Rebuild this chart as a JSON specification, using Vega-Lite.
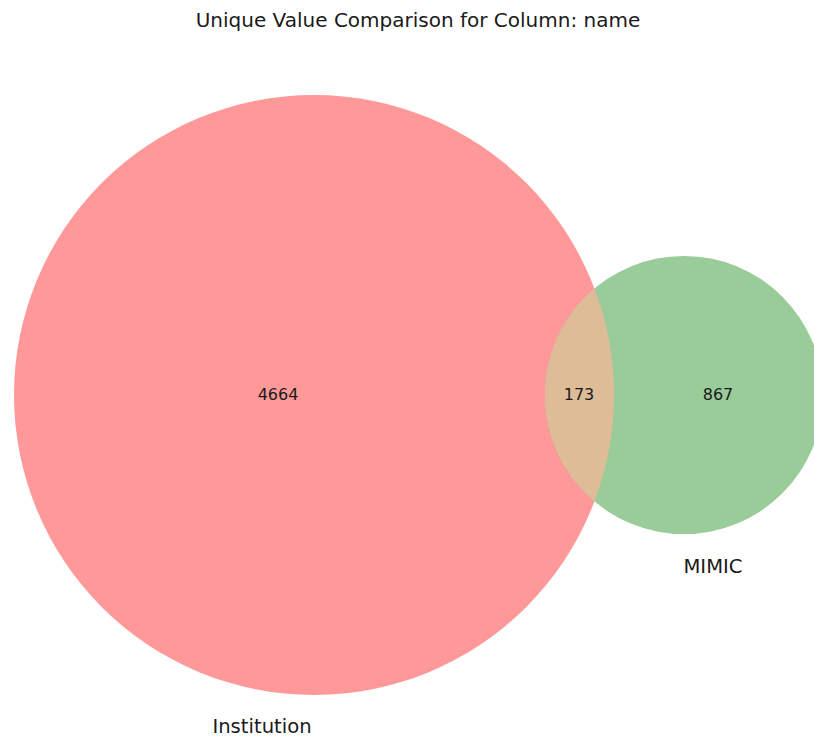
{
  "$schema": "https://vega.github.io/schema/vega-lite/v6.json",
  "width": 814,
  "height": 742,
  "autosize": {"type": "none"},
  "padding": 0,
  "background": "white",
  "config": {"view": {"stroke": null}, "text": {"font": "DejaVu Sans"}},
  "datasets": {
    "sets": [
      {"set": "Institution", "total": 4837, "x": 0, "y": 0, "lx": -0.52, "ly": -3.32},
      {"set": "MIMIC", "total": 1040, "x": 3.70, "y": 0, "lx": 3.99, "ly": -1.72}
    ],
    "regions": [
      {"region": "Institution only", "count": 4664, "x": -0.36, "y": 0},
      {"region": "Institution ∩ MIMIC", "count": 173, "x": 2.65, "y": 0},
      {"region": "MIMIC only", "count": 867, "x": 4.04, "y": 0}
    ],
    "lens": [
      {"region": "Institution ∩ MIMIC", "x": 2.805, "y": 0}
    ],
    "title": [
      {"text": "Unique Value Comparison for Column: name", "x": 1.04, "y": 3.74}
    ]
  },
  "layer": [
    {
      "data": {"name": "sets"},
      "mark": {"type": "circle", "opacity": 1, "strokeWidth": 0},
      "encoding": {
        "x": {"field": "x", "type": "quantitative", "scale": {"domain": [-3.14, 5.0], "nice": false, "zero": false}, "axis": null},
        "y": {"field": "y", "type": "quantitative", "scale": {"domain": [-3.47, 3.95], "nice": false, "zero": false}, "axis": null},
        "size": {"field": "total", "type": "quantitative", "scale": {"type": "linear", "domain": [0, 4837], "range": [0, 360000], "zero": true}, "legend": null},
        "color": {"field": "set", "type": "nominal", "scale": {"domain": ["Institution", "MIMIC"], "range": ["#ff9999", "#99cc99"]}, "legend": null}
      }
    },
    {
      "data": {"name": "lens"},
      "mark": {"type": "point", "filled": true, "opacity": 1, "strokeWidth": 0, "size": 4, "color": "#debc98",
        "shape": "M0,-106.4A139,139,0,0,0,0,106.4A300,300,0,0,0,0,-106.4Z"},
      "encoding": {
        "x": {"field": "x", "type": "quantitative", "scale": {"domain": [-3.14, 5.0], "nice": false, "zero": false}, "axis": null},
        "y": {"field": "y", "type": "quantitative", "scale": {"domain": [-3.47, 3.95], "nice": false, "zero": false}, "axis": null}
      }
    },
    {
      "data": {"name": "regions"},
      "mark": {"type": "text", "fontSize": 16, "color": "#1a1a1a", "baseline": "middle", "align": "center"},
      "encoding": {
        "x": {"field": "x", "type": "quantitative", "axis": null},
        "y": {"field": "y", "type": "quantitative", "axis": null},
        "text": {"field": "count", "type": "quantitative"}
      }
    },
    {
      "data": {"name": "sets"},
      "mark": {"type": "text", "fontSize": 19.6, "color": "#1a1a1a", "baseline": "middle", "align": "center"},
      "encoding": {
        "x": {"field": "lx", "type": "quantitative", "axis": null},
        "y": {"field": "ly", "type": "quantitative", "axis": null},
        "text": {"field": "set", "type": "nominal"}
      }
    },
    {
      "data": {"name": "title"},
      "mark": {"type": "text", "fontSize": 20, "color": "#1a1a1a", "baseline": "middle", "align": "center"},
      "encoding": {
        "x": {"field": "x", "type": "quantitative", "axis": null},
        "y": {"field": "y", "type": "quantitative", "axis": null},
        "text": {"field": "text", "type": "nominal"}
      }
    }
  ]
}
